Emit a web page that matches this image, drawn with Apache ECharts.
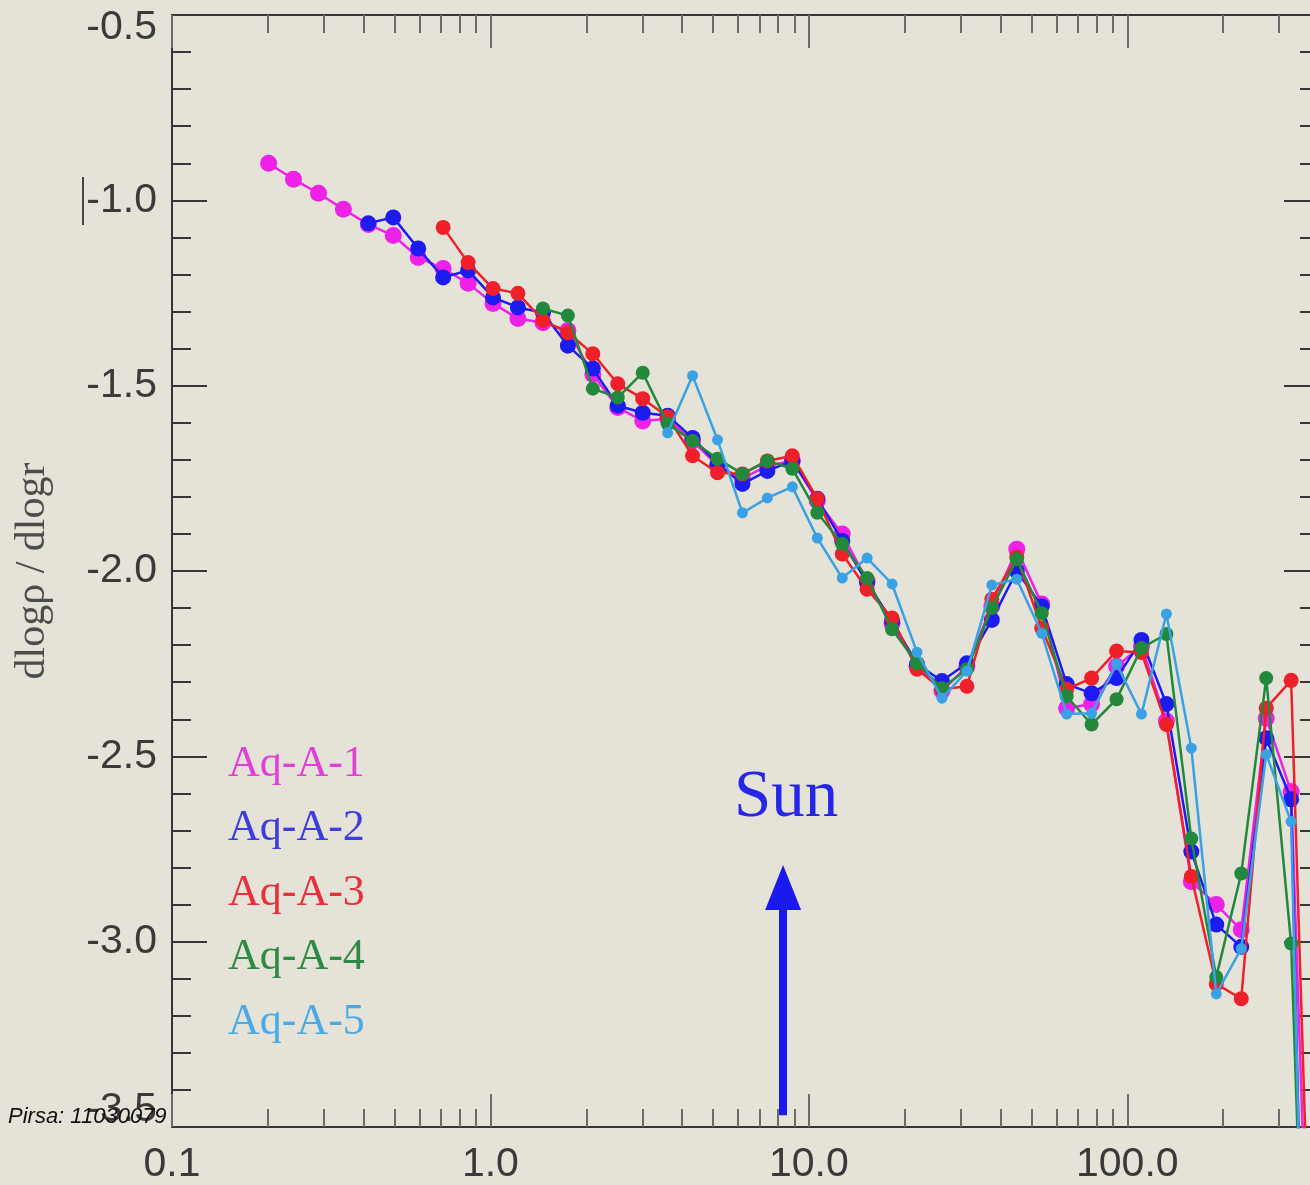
<!DOCTYPE html>
<html>
<head>
<meta charset="utf-8">
<script src="https://cdn.jsdelivr.net/npm/echarts@6/dist/echarts.min.js"></script>
<style>
  html, body { margin: 0; padding: 0; background: #e5e3d8; }
  #chart { width: 1310px; height: 1185px; }
</style>
</head>
<body>
<div id="chart"></div>
<script>
// Radial bins (kpc) shared by the five haloes
const radii = [0.2011, 0.2407, 0.2884, 0.3453, 0.4136, 0.4953, 0.5932, 0.7104, 0.8509, 1.019,
  1.220, 1.462, 1.751, 2.097, 2.511, 3.008, 3.602, 4.313, 5.166, 6.186,
  7.409, 8.874, 10.63, 12.73, 15.24, 18.25, 21.86, 26.18, 31.36, 37.55,
  44.98, 53.87, 64.51, 77.26, 92.53, 110.8, 132.7, 158.9, 190.3, 228.0,
  273.1, 327.0, 391.6];

const seriesNames = ['Aq-A-1', 'Aq-A-2', 'Aq-A-3', 'Aq-A-4', 'Aq-A-5'];

// Logarithmic density slope per bin (null = below that run's resolved radius)
const slopeA1 = [-0.900, -0.943, -0.981, -1.024, -1.065, -1.095, -1.154, -1.184, -1.224, -1.278,
  -1.319, -1.330, -1.351, -1.470, -1.559, -1.595, -1.589, -1.649, -1.716, -1.751,
  -1.716, -1.703, -1.811, -1.900, -2.027, -2.141, -2.257, -2.324, -2.257, -2.095,
  -1.941, -2.089, -2.370, -2.359, -2.257, -2.203, -2.405, -2.838, -2.900, -2.968,
  -2.397, -2.595, -4.57];
const slopeA2 = [null, null, null, null, -1.062, -1.046, -1.130, -1.208, -1.189, -1.262,
  -1.289, -1.303, -1.392, -1.454, -1.554, -1.573, -1.581, -1.641, -1.711, -1.765,
  -1.730, -1.703, -1.805, -1.919, -2.032, -2.135, -2.251, -2.297, -2.249, -2.132,
  -2.000, -2.095, -2.305, -2.330, -2.289, -2.186, -2.359, -2.757, -2.954, -3.014,
  -2.451, -2.616, -5.6];
const slopeA3 = [null, null, null, null, null, null, null, -1.073, -1.168, -1.238,
  -1.251, -1.324, -1.357, -1.414, -1.495, -1.535, -1.584, -1.689, -1.735, -1.738,
  -1.703, -1.689, -1.805, -1.954, -2.049, -2.127, -2.265, -2.319, -2.311, -2.076,
  -1.962, -2.154, -2.319, -2.289, -2.216, -2.220, -2.414, -2.824, -3.114, -3.154,
  -2.370, -2.295, -4.45];
const slopeA4 = [null, null, null, null, null, null, null, null, null, null,
  null, -1.292, -1.311, -1.508, -1.532, -1.465, -1.603, -1.649, -1.697, -1.738,
  -1.703, -1.724, -1.843, -1.927, -2.019, -2.157, -2.249, -2.316, -2.265, -2.100,
  -1.968, -2.114, -2.338, -2.414, -2.346, -2.208, -2.170, -2.722, -3.095, -2.816,
  -2.289, -3.005, -5.0];
const slopeA5 = [null, null, null, null, null, null, null, null, null, null,
  null, null, null, null, null, null, -1.627, -1.473, -1.646, -1.843,
  -1.803, -1.773, -1.911, -2.019, -1.965, -2.035, -2.219, -2.343, -2.270, -2.038,
  -2.022, -2.168, -2.386, -2.384, -2.251, -2.386, -2.116, -2.478, -3.141, -3.019,
  -2.495, -2.676, -5.5];

// Axis ticks and labels
const xMajorTicks = [0.1, 1, 10, 100];
const xTickLabels = ['0.1', '1.0', '10.0', '100.0'];
const xMinorTicks = [0.2, 0.3, 0.4, 0.5, 0.6, 0.7, 0.8, 0.9,
  2, 3, 4, 5, 6, 7, 8, 9,
  20, 30, 40, 50, 60, 70, 80, 90,
  200, 300];

// Solar radius marker (kpc): shaft from the bottom up to the arrowhead centre
const sunRadius = 8.3;
const sunShaft = [-3.468, -2.87];
const sunHead = -2.854;

const slopes = [slopeA1, slopeA2, slopeA3, slopeA4, slopeA5];
const lineColors = ['#ee22e6', '#1c1cf0', '#f0202a', '#22883c', '#3aa2e4'];
const legendColors = ['#e23ed8', '#3c3ce0', '#e8303a', '#2e8a44', '#4aaae6'];
const symbolSizes = [17, 16, 15, 14, 11];
const arrowBlue = '#1a1af0';

const chart = echarts.init(document.getElementById('chart'), null, { renderer: 'canvas' });

const axisDark = '#363636';
const tickGray = '#6c6c6c';
const sansFont = '"Liberation Sans", Arial, sans-serif';
const serifFont = '"Liberation Serif", "Times New Roman", serif';

function xAxisDef(position, major, withLine, withLabels) {
  return {
    type: 'log',
    logBase: 10,
    min: 0.1,
    max: 400,
    position: position,
    splitLine: { show: false },
    axisLine: { show: withLine, onZero: false, lineStyle: { color: axisDark, width: 2 } },
    axisTick: {
      show: true,
      inside: true,
      length: major ? 33 : 18,
      customValues: major ? xMajorTicks : xMinorTicks,
      lineStyle: { color: tickGray, width: 2 }
    },
    axisLabel: withLabels ? {
      show: true,
      customValues: xMajorTicks,
      margin: 17,
      fontSize: 41,
      fontFamily: sansFont,
      color: '#3a3a3a',
      formatter: function (v) {
        for (let j = 0; j < xMajorTicks.length; j++) {
          if (Math.abs(Math.log10(v) - Math.log10(xMajorTicks[j])) < 1e-6) return xTickLabels[j];
        }
        return '';
      }
    } : { show: false }
  };
}

function yAxisDef(position, withLabels) {
  return {
    type: 'value',
    min: -3.5,
    max: -0.5,
    interval: 0.5,
    position: position,
    splitLine: { show: false },
    axisLine: { show: true, onZero: false, lineStyle: { color: axisDark, width: 2 } },
    axisTick: { show: true, inside: true, length: 35, lineStyle: { color: axisDark, width: 2 } },
    minorTick: { show: true, splitNumber: 5, length: 19, lineStyle: { color: axisDark, width: 2 } },
    name: withLabels ? 'dlogρ / dlogr' : '',
    nameLocation: 'middle',
    nameRotate: 90,
    nameGap: 118,
    nameTextStyle: { fontFamily: serifFont, fontSize: 42, color: '#4c4c4c' },
    axisLabel: withLabels ? {
      show: true,
      margin: 15,
      fontSize: 41,
      fontFamily: sansFont,
      color: '#3a3a3a',
      formatter: function (v) {
        const s = v.toFixed(1);
        if (Math.abs(v + 0.5) < 1e-9) return '{top|' + s + '}';
        if (Math.abs(v + 3.5) < 1e-9) return '{bot|' + s + '}';
        return s;
      },
      rich: {
        top: { padding: [26, 0, 0, 0], fontSize: 41, fontFamily: sansFont, color: '#3a3a3a' },
        bot: { padding: [0, 0, 34, 0], fontSize: 41, fontFamily: sansFont, color: '#3a3a3a' }
      }
    } : { show: false }
  };
}

const series = slopes.map(function (vals, k) {
  const pts = [];
  for (let i = 0; i < radii.length; i++) {
    if (vals[i] !== null) pts.push([radii[i], vals[i]]);
  }
  const s = {
    name: seriesNames[k],
    type: 'line',
    xAxisIndex: 0,
    yAxisIndex: 0,
    data: pts,
    symbol: 'circle',
    symbolSize: symbolSizes[k],
    showSymbol: true,
    clip: true,
    lineStyle: { color: lineColors[k], width: 2.5 },
    itemStyle: { color: lineColors[k], borderWidth: 0 },
    emphasis: { disabled: true },
    animation: false,
    z: 2 + k
  };
  if (k === 0) {
    s.markLine = {
      silent: true,
      animation: false,
      symbol: ['none', 'none'],
      label: { show: false },
      lineStyle: { color: arrowBlue, width: 8, type: 'solid', opacity: 1 },
      data: [[{ coord: [sunRadius, sunShaft[0]] }, { coord: [sunRadius, sunShaft[1]] }]]
    };
  }
  return s;
});

// Arrowhead of the solar-radius marker
series.push({
  name: 'Sun',
  type: 'scatter',
  xAxisIndex: 0,
  yAxisIndex: 0,
  data: [[sunRadius, sunHead]],
  symbol: 'triangle',
  symbolSize: [36, 45],
  itemStyle: { color: arrowBlue, opacity: 1 },
  emphasis: { disabled: true },
  silent: true,
  animation: false,
  z: 10
});

chart.setOption({
  backgroundColor: '#e5e3d8',
  animation: false,
  grid: {
    left: 172,
    top: 15,
    width: 1147,
    height: 1112,
    containLabel: false,
    outerBoundsMode: 'none'
  },
  legend: {
    show: true,
    orient: 'vertical',
    left: 223,
    top: 742,
    padding: 0,
    itemWidth: 0,
    itemHeight: 10,
    itemGap: 20.5,
    selectedMode: false,
    icon: 'none',
    textStyle: { fontFamily: serifFont, fontSize: 44, lineHeight: 44 },
    data: seriesNames.map(function (n, i) {
      return { name: n, icon: 'none', textStyle: { color: legendColors[i], fontFamily: serifFont, fontSize: 44, lineHeight: 44 } };
    })
  },
  xAxis: [
    xAxisDef('bottom', true, true, true),
    xAxisDef('bottom', false, false, false),
    xAxisDef('top', true, true, false),
    xAxisDef('top', false, false, false)
  ],
  yAxis: [
    yAxisDef('left', true),
    yAxisDef('right', false)
  ],
  graphic: [
    {
      type: 'text',
      x: 734,
      y: 798,
      silent: true,
      style: { text: 'Sun', font: '67px ' + serifFont, fill: '#2626e8', align: 'left', verticalAlign: 'middle' }
    },
    {
      type: 'line',
      silent: true,
      shape: { x1: 83, y1: 177, x2: 83, y2: 225 },
      style: { stroke: '#444', lineWidth: 2 }
    },
    {
      type: 'text',
      x: 8,
      y: 1117,
      z: 100,
      silent: true,
      style: { text: 'Pirsa: 11030079', font: 'italic 22px ' + sansFont, fill: '#111', align: 'left', verticalAlign: 'middle' }
    }
  ],
  series: series
});
</script>
</body>
</html>
